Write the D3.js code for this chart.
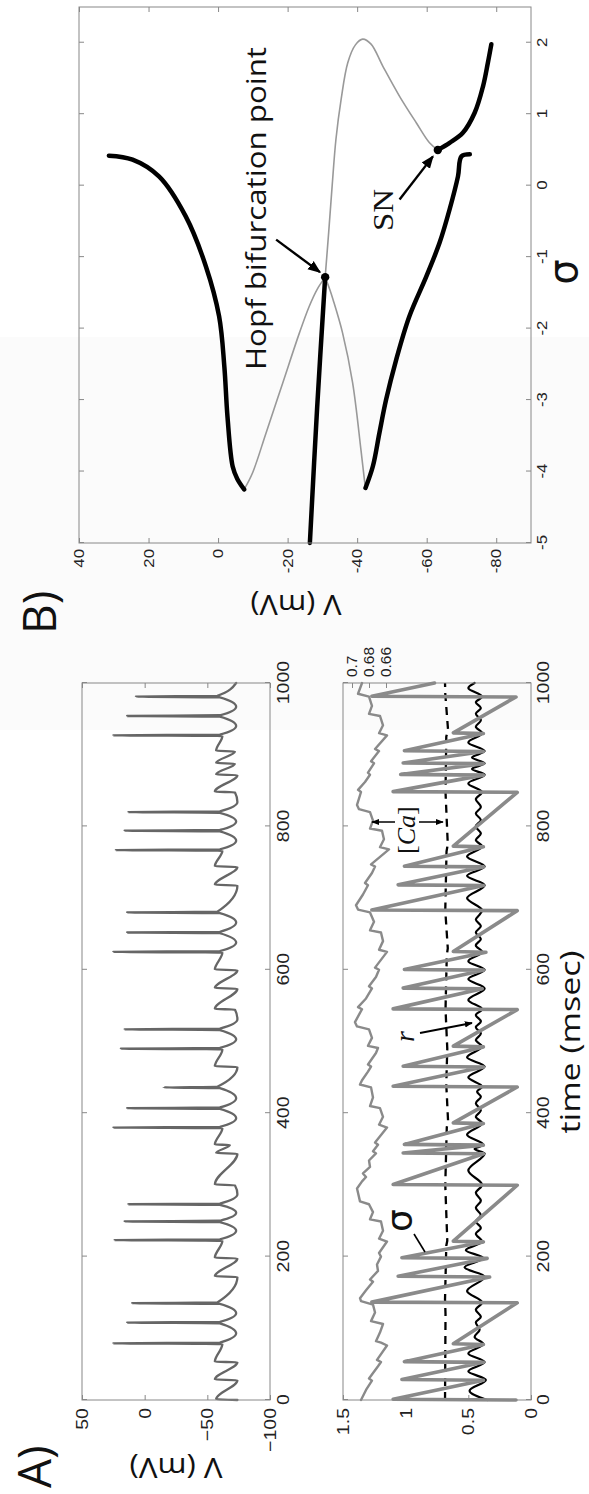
<!DOCTYPE html>
<html>
<head>
<meta charset="utf-8">
<script src="https://cdn.jsdelivr.net/npm/d3@7"></script>
<style>
  body { margin: 0; background: #fff; }
  svg { display: block; }
</style>
</head>
<body>
<svg id="fig" width="589" height="1494"></svg>
<script>
// panel A top: membrane potential V (mV) against time (msec)
var vTrace = [[0,-74],[1,-57],[27.5,-74],[28.5,-56],[52.5,-74],[53.5,-56],[78,-62],[79,25],[80,-60],[93,-73],[107,-60],[108,14],[109,-60],[121,-73],[134,-60],[135,10],[136,-58],
  [171.5,-74],[172.5,-56],[197.5,-74],[198.5,-56],[222,-62],[223,24],[224,-60],[236,-73],[248,-60],[249,16],[250,-60],[261,-73],[272,-60],[273,13],[274,-60],[287,-74],[299.5,-72],[300.5,-56],
  [343.5,-74],[344.5,-57],[355.5,-68],[356.5,-56],[379,-62],[380,25],[381,-60],[393,-73],[406,-60],[407,14],[408,-60],[421,-73],[435,-60],[436,-15],[437,-58],
  [464.5,-74],[465.5,-56],[489,-62],[490,19],[491,-60],[503,-73],[516,-60],[517,16],[518,-60],[531,-74],[544.5,-72],[545.5,-56],
  [573.5,-74],[574.5,-56],[599.5,-74],[600.5,-56],[624,-62],[625,25],[626,-60],[638,-73],[651,-60],[652,14],[653,-60],[666,-73],[679,-60],[680,14],[681,-58],
  [717.5,-74],[718.5,-56],[743.5,-74],[744.5,-56],[766,-62],[767,23],[768,-60],[780,-73],[793,-60],[794,16],[795,-60],[807,-73],[819,-60],[820,13],[821,-60],[834,-74],[847.5,-72],[848.5,-56],
  [871.5,-74],[872.5,-57],[887.5,-72],[888.5,-57],[904.5,-72],[905.5,-57],[926,-62],[927,25],[928,-60],[940,-73],[953,-60],[954,14],[955,-60],[967,-73],[980,-60],[981,7],[982,-58],[1000,-73]];

// panel A bottom: sigma, r, threshold (left scale) and [Ca] (right scale)
var sigmaTrace = [[0,0.12],[1,1.10],[27.5,0.38],[28.5,1.03],[52.5,0.38],[53.5,1.01],[77.5,0.38],[78.5,0.62],[135.5,0.11],[136.5,1.27],
  [171.5,0.33],[172.5,1.06],[197.5,0.35],[198.5,1.03],[220.5,0.38],[221.5,0.62],[299.5,0.11],[300.5,1.10],
  [343.5,0.38],[344.5,1.02],[355.5,0.38],[356.5,1.01],[385.5,0.38],[386.5,0.62],[436.5,0.11],[437.5,1.10],
  [464.5,0.38],[465.5,1.02],[492.5,0.38],[493.5,0.62],[544.5,0.11],[545.5,1.10],
  [573.5,0.39],[574.5,1.02],[599.5,0.38],[600.5,1.01],[624.5,0.36],[625.5,0.62],[682.5,0.11],[683.5,1.27],
  [717.5,0.38],[718.5,1.06],[743.5,0.38],[744.5,1.01],[771.5,0.38],[772.5,0.62],[847.5,0.11],[848.5,1.10],
  [871.5,0.38],[872.5,1.04],[887.5,0.38],[888.5,1.02],[904.5,0.38],[905.5,1.01],[929.5,0.38],[930.5,0.62],[980.5,0.12],[981.5,1.27],[1000,0.77]];

var rTrace = [[0,0.35],[13,0.49],[28,0.36],[40,0.50],[53,0.37],[65,0.50],[78,0.38],
  [88,0.45],[98,0.41],[108,0.44],[116,0.40],[126,0.44],[136,0.39],
  [152,0.51],[172,0.37],[185,0.53],[198,0.38],[209,0.52],[221,0.39],
  [232,0.44],[240,0.40],[249,0.44],[258,0.40],[268,0.44],[278,0.40],[289,0.44],[300,0.39],
  [320,0.50],[344,0.37],[350,0.45],[356,0.38],[370,0.51],[386,0.39],
  [395,0.44],[404,0.40],[414,0.44],[423,0.40],[430,0.43],[437,0.39],
  [450,0.50],[465,0.37],[478,0.51],[493,0.39],
  [502,0.44],[511,0.40],[520,0.44],[528,0.40],[537,0.44],[545,0.39],
  [558,0.50],[574,0.37],[587,0.50],[600,0.37],[612,0.50],[625,0.39],
  [634,0.44],[643,0.40],[652,0.44],[661,0.40],[670,0.44],[677,0.41],[683,0.39],
  [700,0.51],[718,0.37],[731,0.51],[744,0.37],[758,0.51],[772,0.39],
  [781,0.44],[790,0.40],[800,0.44],[809,0.40],[818,0.44],[827,0.40],[838,0.44],[848,0.39],
  [860,0.50],[872,0.37],[880,0.47],[888,0.37],[896,0.47],[905,0.37],[917,0.50],[930,0.39],
  [939,0.44],[948,0.40],[957,0.44],[965,0.40],[973,0.44],[981,0.39],[993,0.50],[1000,0.45]];

var dashTrace = [[0,0.686],[120,0.682],[140,0.686],[215,0.676],[222,0.668],[300,0.684],[380,0.672],[390,0.662],[440,0.676],[490,0.668],
  [545,0.682],[620,0.672],[630,0.664],[683,0.684],[765,0.674],[775,0.664],[848,0.682],[925,0.676],[935,0.662],[985,0.684],[1000,0.686]];

var caTrace = [[0,0.6894],[14,0.6835],[27,0.6765],[30,0.6800],[47,0.6694],[53,0.6659],[56,0.6706],[76,0.6588],[80,0.6659],[82,0.6718],
  [94,0.6671],[106,0.6635],[110,0.6776],[122,0.6729],[133,0.6753],[138,0.6894],[142,0.6906],[153,0.6835],[165,0.6753],[168,0.6788],
  [180,0.6694],[189,0.6706],[200,0.6659],[205,0.6682],[221,0.6588],[225,0.6682],[236,0.6635],[249,0.6659],[252,0.6788],[262,0.6753],
  [273,0.6800],[277,0.6906],[295,0.6941],[305,0.6882],[311,0.6835],[316,0.6871],[325,0.6788],[334,0.6800],[344,0.6718],[347,0.6753],
  [356,0.6694],[359,0.6729],[380,0.6588],[384,0.6682],[395,0.6635],[407,0.6671],[410,0.6788],[422,0.6753],[436,0.6776],[440,0.6906],
  [446,0.6882],[458,0.6812],[465,0.6776],[468,0.6812],[484,0.6718],[491,0.6694],[494,0.6812],[505,0.6765],[517,0.6800],[521,0.6941],
  [527,0.6965],[540,0.6906],[545,0.6882],[548,0.6929],[560,0.6835],[574,0.6765],[577,0.6800],[590,0.6718],[600,0.6682],[603,0.6729],
  [625,0.6588],[628,0.6682],[640,0.6635],[652,0.6659],[655,0.6788],[667,0.6741],[680,0.6788],[684,0.6929],[690,0.6953],[705,0.6871],
  [718,0.6812],[721,0.6847],[735,0.6765],[744,0.6729],[747,0.6776],[768,0.6565],[771,0.6671],[782,0.6624],[794,0.6647],[797,0.6788],
  [808,0.6753],[820,0.6788],[824,0.6918],[830,0.6941],[848,0.6894],[851,0.6929],[862,0.6847],[872,0.6788],[875,0.6812],[888,0.6741],
  [891,0.6776],[905,0.6682],[908,0.6729],[927,0.6588],[930,0.6682],[941,0.6635],[954,0.6671],[957,0.6800],[968,0.6765],[981,0.6800],
  [985,0.6929],[1000,0.6882]];

// panel B: V (mV) against sigma
var eqStable = [[-5,-26.4],[-3.1,-28.5],[-1.28,-30.8]];
var eqUnstable = [[-1.28,-30.8],[-0.66,-31.8],[-0.01,-32.8],[0.65,-33.9],[1.21,-35.4],[1.72,-37.3],[1.97,-39.5],[2.05,-41.6],[1.98,-44],
  [1.67,-47.4],[1.25,-52.2],[0.88,-57],[0.6,-60.8],[0.5,-63.2]];
var eqLower = [[0.5,-63.2],[0.6,-66.6],[0.74,-70.4],[1.02,-73.8],[1.39,-76.2],[1.72,-77.6],[1.98,-78.6]];
var cycMaxUnstable = [[-1.28,-30.8],[-1.45,-28.5],[-1.69,-26.2],[-2.06,-23.4],[-2.76,-18.6],[-3.46,-13.8],[-4.02,-9.9],[-4.25,-7.5]];
var cycMaxStable = [[-4.25,-7.5],[-4.1,-5.5],[-3.93,-4.2],[-3.23,-2.7],[-2.53,-1.8],[-1.83,-0.3],[-1.13,3.5],[-0.43,9.3],[0.13,17],[0.365,24.6],[0.42,31.4]];
var cycMinUnstable = [[-1.28,-30.8],[-1.45,-32.1],[-1.6,-33.1],[-2.06,-35.8],[-2.76,-38.7],[-3.7,-41.1],[-4.12,-42.1],[-4.23,-42.4]];
var cycMinStable = [[-4.23,-42.4],[-3.93,-44.5],[-3.46,-46.4],[-3.0,-48.3],[-2.44,-51.2],[-1.83,-55],[-1.27,-59.9],[-0.8,-63.7],
  [-0.33,-66.6],[0.13,-69],[0.41,-70],[0.44,-72.4]];
var hopfPoint = [-1.28,-30.8];
var snPoint = [0.5,-63.2];

var timeTicks = [0,200,400,600,800,1000];
var vTicksA = [-100,-50,0,50];
var sigTicksA = [0,0.5,1,1.5];
var caTicks = [0.66,0.68,0.7];
var sigTicksB = [-5,-4,-3,-2,-1,0,1,2];
var vTicksB = [-80,-60,-40,-20,0,20,40];

var svg = d3.select("#fig");
var defs = svg.append("defs");
function marker(id, size) {
  defs.append("marker").attr("id", id).attr("viewBox", "0 0 10 10").attr("refX", 9).attr("refY", 5)
    .attr("markerWidth", size).attr("markerHeight", size).attr("markerUnits", "userSpaceOnUse").attr("orient", "auto")
    .append("path").attr("d", "M0,1L10,5L0,9z").attr("fill", "#000");
}
marker("arrBig", 13);
marker("arrSmall", 8);

// the whole figure is drawn landscape and turned a quarter to the left
var g = svg.append("g").attr("transform", "translate(0,1494) rotate(-90)");

g.append("rect").attr("x", 764).attr("y", 0).attr("width", 393).attr("height", 589).attr("fill", "#fbfbfb");

var xT = d3.scaleLinear().domain([0, 1000]).range([94, 811]);
var yV = d3.scaleLinear().domain([-100, 50]).range([270, 82]);
var ySig = d3.scaleLinear().domain([0, 1.5]).range([531, 343]);
var yCa = d3.scaleLinear().domain([0.66, 0.7]).range([386, 352]);
var xS = d3.scaleLinear().domain([-5, 2.5]).range([951, 1487]);
var yB = d3.scaleLinear().domain([-90, 40]).range([531, 79]);

function stretch(sel, k) {
  sel.each(function() {
    var w = this.getComputedTextLength();
    d3.select(this).attr("textLength", w * k).attr("lengthAdjust", "spacingAndGlyphs");
  });
}

function axis(gen, tx, ty, size, k, showText) {
  var a = g.append("g").attr("transform", "translate(" + tx + "," + ty + ")").call(gen);
  a.select(".domain").remove();
  a.selectAll("line").attr("stroke", "#888");
  a.selectAll("text").attr("fill", "#222").style("font-family", "'Liberation Sans', Arial, sans-serif").style("font-size", size + "px");
  if (showText) stretch(a.selectAll("text"), k);
  else a.selectAll("text").remove();
}

function box(x0, x1, y0, y1) {
  g.append("rect").attr("x", x0).attr("y", y0).attr("width", x1 - x0).attr("height", y1 - y0)
    .attr("fill", "none").attr("stroke", "#888").attr("stroke-width", 1);
}

function plot(data, x, y, curve, color, width, dash) {
  var line = d3.line().x(d => x(d[0])).y(d => y(d[1])).curve(curve);
  var p = g.append("path").datum(data).attr("d", line).attr("fill", "none")
    .attr("stroke", color).attr("stroke-width", width).attr("stroke-linejoin", "round").attr("stroke-linecap", "round");
  if (dash) p.attr("stroke-dasharray", dash).attr("stroke-linecap", "butt");
}

var plain = d => "" + d;

// ---- panel A, top
plot(vTrace, xT, yV, d3.curveMonotoneX, "#666", 2.3);
box(94, 811, 82, 270);
axis(d3.axisBottom(xT).tickValues(timeTicks).tickFormat(plain).tickSizeInner(-5).tickSizeOuter(0).tickPadding(7), 0, 270, 17, 1.15, true);
axis(d3.axisTop(xT).tickValues(timeTicks).tickSizeInner(-5).tickSizeOuter(0), 0, 82, 17, 1, false);
axis(d3.axisLeft(yV).tickValues(vTicksA).tickSizeInner(-5).tickSizeOuter(0).tickPadding(8), 94, 0, 17, 1.15, true);
axis(d3.axisRight(yV).tickValues(vTicksA).tickSizeInner(-5).tickSizeOuter(0), 811, 0, 17, 1, false);

// ---- panel A, bottom
plot(caTrace, xT, yCa, d3.curveLinear, "#8a8a8a", 2.4);
plot(dashTrace, xT, ySig, d3.curveLinear, "#000", 2.3, "8,6");
plot(rTrace, xT, ySig, d3.curveMonotoneX, "#000", 2.2);
plot(sigmaTrace, xT, ySig, d3.curveLinear, "#8a8a8a", 3.6);
box(94, 811, 343, 531);
axis(d3.axisBottom(xT).tickValues(timeTicks).tickFormat(plain).tickSizeInner(-5).tickSizeOuter(0).tickPadding(6), 0, 531, 17, 1.15, true);
axis(d3.axisTop(xT).tickValues(timeTicks).tickSizeInner(-5).tickSizeOuter(0), 0, 343, 17, 1, false);
axis(d3.axisLeft(ySig).tickValues(sigTicksA).tickFormat(plain).tickSizeInner(-5).tickSizeOuter(0).tickPadding(8), 94, 0, 17, 1.15, true);
axis(d3.axisRight(yCa).tickValues(caTicks).tickFormat(plain).tickSizeInner(-5).tickSizeOuter(0).tickPadding(6), 811, 0, 14, 1.1, true);

// ---- panel B
plot(eqUnstable, xS, yB, d3.curveCatmullRom, "#999", 1.6);
plot(cycMaxUnstable, xS, yB, d3.curveCatmullRom, "#999", 1.6);
plot(cycMinUnstable, xS, yB, d3.curveCatmullRom, "#999", 1.6);
plot(eqStable, xS, yB, d3.curveCatmullRom, "#000", 4.5);
plot(eqLower, xS, yB, d3.curveCatmullRom, "#000", 4.5);
plot(cycMaxStable, xS, yB, d3.curveCatmullRom, "#000", 4.5);
plot(cycMinStable, xS, yB, d3.curveCatmullRom, "#000", 4.5);
g.selectAll(".bifDot").data([hopfPoint, snPoint]).enter().append("circle").attr("class", "bifDot")
  .attr("cx", d => xS(d[0])).attr("cy", d => yB(d[1])).attr("r", 4.2).attr("fill", "#000");
box(951, 1487, 79, 531);
var dash = d => (d < 0 ? "-" + Math.abs(d) : "" + d);
axis(d3.axisBottom(xS).tickValues(sigTicksB).tickFormat(dash).tickSizeInner(-5).tickSizeOuter(0).tickPadding(6), 0, 531, 14, 1.2, true);
axis(d3.axisTop(xS).tickValues(sigTicksB).tickSizeInner(-5).tickSizeOuter(0), 0, 79, 14, 1, false);
axis(d3.axisLeft(yB).tickValues(vTicksB).tickFormat(dash).tickSizeInner(-5).tickSizeOuter(0).tickPadding(6), 951, 0, 14, 1.2, true);
axis(d3.axisRight(yB).tickValues(vTicksB).tickSizeInner(-5).tickSizeOuter(0), 1487, 0, 14, 1, false);

// ---- labels
var sans = "'Open Sans', 'DejaVu Sans', sans-serif";
var serif = "'Liberation Serif', 'Times New Roman', serif";

function label(txt, x, y, size, opts) {
  opts = opts || {};
  var t = g.append("text").attr("x", x).attr("y", y).text(txt)
    .style("font-family", opts.font || sans).style("font-size", size + "px").attr("fill", "#111")
    .attr("text-anchor", opts.anchor || "start");
  if (opts.rot) t.attr("transform", "rotate(" + opts.rot + "," + x + "," + y + ")");
  if (opts.len) t.attr("textLength", opts.len).attr("lengthAdjust", "spacingAndGlyphs");
  if (opts.italic) t.style("font-style", "italic");
  return t;
}

label("A)", 6, 51, 46);
label("B)", 860, 56, 46);
label("V (mV)", 36, 176, 28, {anchor: "middle", rot: -90, len: 93});
label("V (mV)", 899, 296, 28, {anchor: "middle", rot: -90, len: 91});
label("time (msec)", 452, 580, 28, {anchor: "middle", len: 183});
label("Hopf bifurcation point", 1124, 266, 28, {len: 323});
label("SN", 1263, 393, 30, {font: serif, len: 42});
label("\u03c3", 1222, 577, 40, {anchor: "middle", font: "'DejaVu Sans', sans-serif"});

// annotations inside panel A bottom
label("\u03c3", 262, 412, 36, {font: "'DejaVu Sans', sans-serif"});
g.append("line").attr("x1", 260).attr("y1", 414).attr("x2", 242).attr("y2", 425).attr("stroke", "#000").attr("stroke-width", 1.6);

var ca = g.append("text").attr("x", 640).attr("y", 415).style("font-family", serif).style("font-size", "26px").attr("fill", "#111");
ca.append("tspan").text("[");
ca.append("tspan").style("font-style", "italic").text("Ca");
ca.append("tspan").text("]");
g.append("line").attr("x1", 672).attr("y1", 395).attr("x2", 672).attr("y2", 372).attr("stroke", "#000").attr("stroke-width", 1.5).attr("marker-end", "url(#arrSmall)");
g.append("line").attr("x1", 672).attr("y1", 419).attr("x2", 672).attr("y2", 443).attr("stroke", "#000").attr("stroke-width", 1.5).attr("marker-end", "url(#arrSmall)");

label("r", 452, 414, 28, {font: serif, italic: true});
g.append("line").attr("x1", 461).attr("y1", 420).attr("x2", 471).attr("y2", 472).attr("stroke", "#000").attr("stroke-width", 1.8).attr("marker-end", "url(#arrSmall)");

// arrows in panel B
g.append("line").attr("x1", xS(-0.755)).attr("y1", yB(-16.7)).attr("x2", xS(-1.21)).attr("y2", yB(-29.3))
  .attr("stroke", "#000").attr("stroke-width", 2.4).attr("marker-end", "url(#arrBig)");
g.append("line").attr("x1", xS(-0.195)).attr("y1", yB(-52.2)).attr("x2", xS(0.41)).attr("y2", yB(-61.8))
  .attr("stroke", "#000").attr("stroke-width", 2.4).attr("marker-end", "url(#arrBig)");
</script>
</body>
</html>
